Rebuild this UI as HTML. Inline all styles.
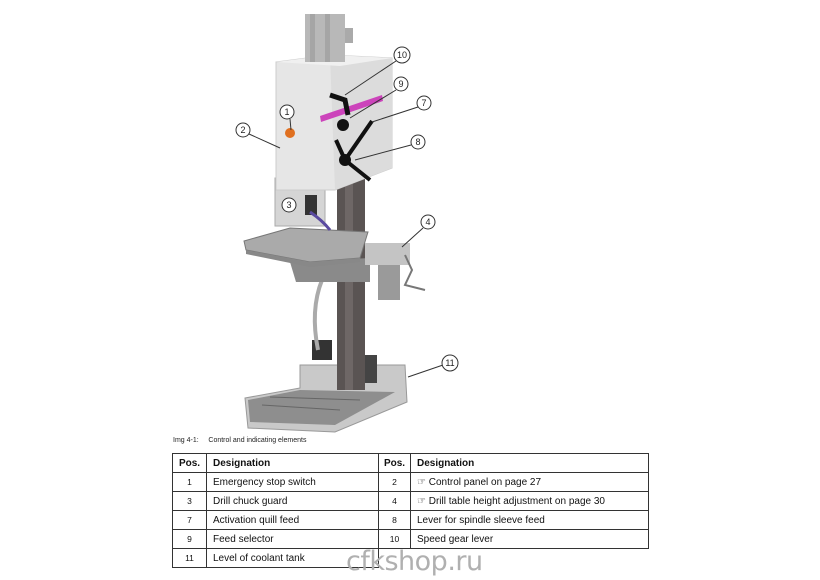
<!DOCTYPE html>
<html><head><meta charset="utf-8"><style>
body{margin:0;background:#fff;width:820px;height:580px;overflow:hidden;position:relative;font-family:"Liberation Sans",sans-serif}
svg{position:absolute;left:0;top:0}
.cap{position:absolute;left:173px;top:437px;font-size:7px;color:#222}
table{position:absolute;left:172px;top:453px;border-collapse:collapse;font-size:10px;color:#111;table-layout:fixed;width:476px}
td{border:1.5px solid #333;height:18px;padding:0 6px;white-space:nowrap}
td.n{text-align:center;padding:0;font-size:8.5px}
th{border:1.5px solid #333;height:18px;text-align:left;padding:0 6px;font-size:10px}
.wm{position:absolute;left:346px;top:546px;font-size:27px;color:#b0b0b0;font-family:"DejaVu Sans",sans-serif;letter-spacing:-0.5px}
</style></head><body>
<svg width="820" height="440" viewBox="0 0 820 440">
<polygon points="245,398 300,388 300,365 405,365 407,402 335,432 248,428" fill="#c9c9c9" stroke="#999"/>
<polygon points="248,400 300,390 395,392 335,425 250,422" fill="#8e8e8e"/>
<line x1="262" y1="405" x2="340" y2="410" stroke="#666"/><line x1="270" y1="397" x2="360" y2="400" stroke="#666"/>
<rect x="355" y="355" width="22" height="28" fill="#444"/>
<rect x="312" y="340" width="20" height="20" fill="#333"/>
<rect x="337" y="160" width="28" height="230" fill="#5a5453"/>
<rect x="345" y="160" width="8" height="230" fill="#6e6766"/>
<path d="M322,280 Q310,310 318,350" stroke="#aaa" stroke-width="4" fill="none"/>
<polygon points="290,262 370,258 370,282 296,282" fill="#8a8a8a"/>
<polygon points="244,241 290,228 368,232 360,258 310,262 246,250" fill="#aaa" stroke="#777"/>
<polygon points="246,250 310,262 360,258 360,262 310,267 246,254" fill="#888"/>
<rect x="365" y="243" width="45" height="22" fill="#c4c4c4"/>
<rect x="378" y="265" width="22" height="35" fill="#9a9a9a"/>
<path d="M405,255 L412,270 L405,285 L425,290" stroke="#777" stroke-width="2" fill="none"/>
<rect x="275" y="178" width="50" height="48" fill="#d5d5d5" stroke="#aaa"/>
<rect x="305" y="195" width="12" height="20" fill="#333"/>
<path d="M310,212 Q322,220 330,230" stroke="#5a4aa0" stroke-width="3" fill="none"/>
<rect x="297" y="172" width="22" height="10" fill="#c060b0"/>
<polygon points="276,62 330,55 392,58 392,168 335,190 276,190" fill="#e6e6e6" stroke="#ccc"/>
<polygon points="330,55 392,58 392,168 335,190" fill="#dcdcdc"/>
<polygon points="276,62 330,55 392,58 340,66" fill="#f0f0f0"/>
<polygon points="320,116 382,95 383,101 321,122" fill="#cc44bb"/>
<circle cx="290" cy="133" r="5" fill="#e07020"/>
<rect x="305" y="14" width="40" height="48" fill="#b8b8b8"/>
<rect x="310" y="14" width="5" height="48" fill="#a5a5a5"/><rect x="325" y="14" width="5" height="48" fill="#a5a5a5"/>
<rect x="345" y="28" width="8" height="15" fill="#aaa"/>
<path d="M345,160 L372,121 M345,160 L370,180 M345,160 L336,140" stroke="#111" stroke-width="4"/>
<circle cx="345" cy="160" r="6" fill="#111"/>
<circle cx="343" cy="125" r="6" fill="#111"/>
<path d="M330,95 L345,100 L348,115" stroke="#111" stroke-width="5" fill="none"/>
<g stroke="#333" stroke-width="1" fill="none">
<line x1="290" y1="119" x2="291" y2="130"/><line x1="249" y1="134" x2="280" y2="148"/>
<line x1="396" y1="61" x2="345" y2="95"/><line x1="396" y1="90" x2="350" y2="118"/>
<line x1="418" y1="107" x2="372" y2="122"/><line x1="411" y1="145" x2="355" y2="160"/>
<line x1="423" y1="228" x2="402" y2="247"/><line x1="443" y1="365" x2="408" y2="377"/>
</g>
<g fill="#fff" stroke="#333" stroke-width="1">
<circle cx="287" cy="112" r="7"/><circle cx="243" cy="130" r="7"/><circle cx="289" cy="205" r="7"/>
<circle cx="428" cy="222" r="7"/><circle cx="424" cy="103" r="7"/><circle cx="418" cy="142" r="7"/>
<circle cx="401" cy="84" r="7"/><circle cx="402" cy="55" r="8"/><circle cx="450" cy="363" r="8"/>
</g>
<g font-family="Liberation Sans" font-size="9" text-anchor="middle" fill="#222">
<text x="287" y="115">1</text><text x="243" y="133">2</text><text x="289" y="208">3</text>
<text x="428" y="225">4</text><text x="424" y="106">7</text><text x="418" y="145">8</text>
<text x="401" y="87">9</text><text x="402" y="58">10</text><text x="450" y="366">11</text>
</g>
</svg>
<div class="cap">Img 4-1:&nbsp;&nbsp;&nbsp;&nbsp;&nbsp;Control and indicating elements</div>
<table>
<colgroup><col style="width:34px"><col style="width:172px"><col style="width:32px"><col style="width:238px"></colgroup>
<tr><th style="text-align:center;padding:0">Pos.</th><th>Designation</th><th style="text-align:center;padding:0">Pos.</th><th>Designation</th></tr>
<tr><td class="n">1</td><td>Emergency stop switch</td><td class="n">2</td><td>☞ Control panel on page 27</td></tr>
<tr><td class="n">3</td><td>Drill chuck guard</td><td class="n">4</td><td>☞ Drill table height adjustment on page 30</td></tr>
<tr><td class="n">7</td><td>Activation quill feed</td><td class="n">8</td><td>Lever for spindle sleeve feed</td></tr>
<tr><td class="n">9</td><td>Feed selector</td><td class="n">10</td><td>Speed gear lever</td></tr>
<tr><td class="n">11</td><td>Level of coolant tank</td><td style="border:none;border-top:1.5px solid #333"></td><td style="border:none;border-top:1.5px solid #333"></td></tr>
</table>
<div class="wm">cfkshop.ru</div>
</body></html>
